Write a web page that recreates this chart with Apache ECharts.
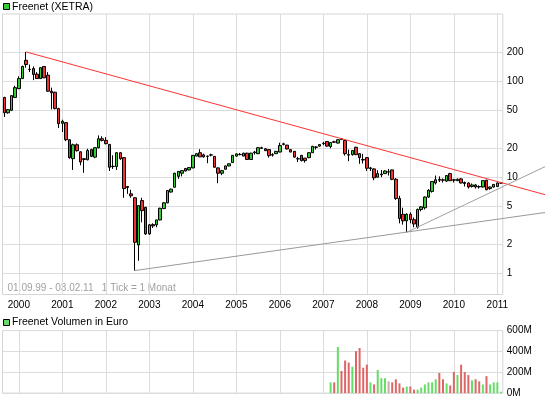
<!DOCTYPE html>
<html>
<head>
<meta charset="utf-8">
<script src="https://cdn.jsdelivr.net/npm/echarts@6/dist/echarts.min.js"></script>
<style>
  html, body { margin: 0; padding: 0; background: #fff; }
  #main { width: 545px; height: 398px; }
</style>
</head>
<body>
<div id="main"></div>
<script>
// Monatskerzen 09.1999 - 02.2011
const months = []
for (let i = 0; i < 138; i++) {
  let m = 8 + i
  months.push((1999 + Math.floor(m / 12)) + '-' + String(m % 12 + 1).padStart(2, '0'))
}

const opens = [
  68, 47, 50, 68,
  84, 107, 166, 134, 136, 119, 107, 143, 116, 79, 77, 52,
  36.5, 37.1, 24.6, 15.6, 21.8, 18.4, 15.6, 15.2, 19.4, 16.2, 20.3, 25.2,
  24.2, 22, 13, 12.9, 18, 16, 8, 6.7, 6.1, 1.96, 5.7, 4.85,
  2.56, 3.2, 3.18, 3.58, 4.7, 5.4, 7.0, 7.86, 10.2, 11.0, 12.3, 11.9,
  12.5, 16.6, 18.0, 17.1, 16.6, 17, 16.5, 12.5, 11.0, 12.1, 13.1, 14.2,
  16.6, 17.3, 16.6, 17.8, 15.3, 18.0, 17.6, 20.3, 19.8, 19.4, 17.2, 17.6,
  18.3, 22.3, 21.6, 19.4, 18.6, 15.6, 16.9, 15.8, 16.0, 18.0, 20.7, 21.1,
  22.6, 23.6, 20.9, 23.4, 22.7, 25.0, 24.2, 17.2, 17.2, 20.5, 17.6, 15.3,
  16.0, 12.3, 12.2, 10.0, 10.6, 10.9, 11.4, 11.9, 9.5, 6.0, 4.1, 3.5,
  4.1, 3.6, 3.0, 4.6, 4.8, 6.2, 7.1, 8.7, 9.5, 9.4, 9.1, 10.9,
  9.4, 9.2, 9.6, 8.8, 8.7, 8.0, 8.3, 8.0, 7.9, 9.3, 7.6, 7.9,
  8.0, 8.7
]
const closes = [
  47, 50.7, 71, 86,
  107, 143, 150, 133, 118, 107, 139, 109, 79, 76, 52, 36.2,
  38.3, 24.6, 16, 21.8, 18.9, 14.4, 15.3, 19, 16.5, 20.3, 25.2, 24.2,
  22.4, 12.7, 12.9, 18, 15.6, 7.6, 7.8, 6.4, 2.09, 5.05, 4.48, 2.56,
  3.18, 3.1, 3.58, 4.74, 5.4, 7.26, 7.5, 11.0, 11.5, 11.7, 11.6, 12.6,
  16.9, 17.6, 16.3, 16.3, 16.5, 17.1, 12.7, 11.0, 11.7, 13.1, 13.8, 16.9,
  17.5, 17.2, 17.8, 15.3, 17.8, 18.3, 20.3, 20.0, 18.9, 16.8, 17.0, 18.6,
  21.4, 22.0, 19.7, 18.3, 16.2, 15.5, 14.9, 14.9, 18.0, 21.0, 20.5, 21.9,
  22.4, 21.1, 23.0, 23.2, 24.6, 24.8, 17.6, 17.0, 19.0, 17.2, 16.0, 15.1,
  12.4, 12.5, 9.85, 10.9, 10.8, 11.6, 11.3, 9.5, 6.0, 3.7, 3.5, 4.1,
  3.6, 3.25, 4.6, 4.9, 6.2, 7.3, 9.0, 9.4, 9.3, 9.3, 10.4, 9.2,
  9.3, 9.5, 8.7, 8.6, 7.9, 8.3, 7.9, 7.9, 9.2, 7.4, 7.9, 8.4,
  8.7, 8.7
]
const lows = [
  42.5, 46, 49, 67,
  83, 106, 139, 125, 103, 106, 106, 108, 78, 51, 51, 32.6,
  29.6, 23.8, 15.6, 11.9, 18.5, 13.3, 11.1, 15, 16.2, 15.8, 20, 23.6,
  22, 11.6, 12.2, 11.9, 15.2, 6.1, 6.7, 6.1, 1.06, 1.34, 3.38, 2.5,
  2.5, 2.95, 3.0, 3.55, 4.65, 5.35, 6.9, 7.8, 9.6, 10.2, 11.5, 11.8,
  12.4, 16.5, 16.2, 16, 14.0, 16.5, 12.6, 8.65, 10.5, 12, 13, 14.1,
  16.4, 16.9, 16.5, 15.2, 15.2, 17.2, 17.4, 19.8, 18.8, 16.0, 16.4, 17.5,
  18.2, 21.5, 19.5, 18.2, 16.0, 14.4, 14.6, 14.2, 15.8, 17.9, 19.4, 20.8,
  21.6, 20.8, 20.0, 22.8, 22.5, 24.4, 16.8, 14.7, 16.8, 17.0, 13.8, 13.9,
  11.6, 11.6, 9.3, 9.9, 10.0, 10.8, 10.4, 9.3, 5.8, 3.3, 3.2, 2.66,
  3.3, 3.0, 2.9, 4.4, 4.6, 6.1, 6.9, 8.4, 8.9, 8.8, 8.9, 9.1,
  8.8, 9.1, 8.6, 8.0, 7.6, 7.8, 7.6, 7.6, 7.8, 7.3, 7.4, 7.8,
  7.9, 8.6
]
const highs = [
  69, 51.5, 72, 90,
  113, 146, 203, 150, 143, 125, 141, 144, 125, 86, 78, 53,
  39.8, 37.5, 25, 22.4, 22.5, 18.6, 15.8, 19.8, 19.8, 20.6, 27.3, 26.7,
  26.2, 22.2, 16.9, 18.2, 18.2, 16.1, 8.1, 7.4, 6.2, 5.1, 6.1, 4.9,
  3.25, 3.3, 3.6, 4.8, 5.5, 7.3, 7.6, 11.1, 11.6, 11.8, 12.5, 12.7,
  17, 17.8, 19.6, 17.6, 16.8, 17.6, 16.6, 12.7, 11.9, 13.2, 13.9, 17,
  17.7, 17.9, 18, 18, 18, 18.8, 20.5, 20.8, 20, 19.6, 17.8, 18.8,
  22.9, 22.9, 21.8, 19.6, 18.8, 16.3, 17.0, 15.9, 18.2, 21.2, 21.0, 22.0,
  23.4, 23.8, 23.2, 24.0, 24.8, 25.6, 24.6, 19.4, 19.2, 20.8, 17.8, 17.5,
  16.2, 12.8, 12.4, 11.8, 11.9, 11.8, 12.2, 12.0, 9.8, 6.4, 4.8, 4.2,
  4.3, 3.8, 4.7, 5.0, 6.3, 7.5, 9.1, 10.4, 10.2, 9.7, 10.5, 11.1,
  9.6, 9.7, 9.8, 9.0, 8.8, 8.6, 8.5, 8.2, 9.3, 9.4, 8.0, 8.5,
  8.8, 8.8
]

// Volumen in Mio. Euro, ab 03.2007
const volStart = '2007-03'
const volumes = [
  103, 103, 443, 213, 313, 293, 253, 403, 433, 243,
  273, 103, 83, 223, 143, 143, 113, 103, 133, 93,
  53, 63, 63, 33, 33, 53, 83, 103, 103, 133,
  193, 133, 93, 73, 203, 173, 273, 203, 173, 123,
  133, 113, 83, 163, 83, 103, 103, 13
]
// 1 = steigend, -1 = fallend, 0 = unveraendert
const volDir = [
  1, -1, 1, -1, -1, -1, 1, -1, -1, -1,
  -1, 1, -1, 1, 1, 1, 0, -1, -1, -1,
  -1, 1, -1, -1, 1, 1, 1, 1, 1, 1,
  -1, -1, 1, -1, -1, 1, -1, -1, -1, 1,
  -1, -1, 1, -1, 1, 1, 1, 1
]

const priceTicks = [1, 2, 5, 10, 20, 50, 100, 200]
const yearMonths = months.filter(m => m.endsWith('-01'))

// Trendlinien: zwei Ankerpunkte [Monat, Kurs], nach rechts verlaengert
const trendRed = [['2000-03', 203], ['2011-01', 9.0]]
const trendGray1 = [['2002-09', 1.06], ['2011-01', 3.64]]
const trendGray2 = [['2008-12', 2.66], ['2011-01', 7.48]]

const FONT = 'Liberation Sans, Arial, sans-serif'

let myChart = echarts.init(document.getElementById('main'), null, { renderer: 'canvas' })

const volOffset = months.indexOf(volStart)
const volData = months.map((m, i) => {
  let k = i - volOffset
  if (k < 0 || k >= volumes.length) return '-'
  let c = volDir[k] > 0 ? '#66dd66' : (volDir[k] < 0 ? '#dd6666' : '#ccaaaa')
  return { value: volumes[k], itemStyle: { color: c } }
})

const gridLine = { color: '#dcdcdc', width: 1, type: 'solid' }

let option = {
  animation: false,
  backgroundColor: '#fff',
  grid: [
    { left: 2.5, right: 42.2, top: 14, bottom: 103.5, show: true, borderColor: '#d4d4d4', borderWidth: 1, backgroundColor: '#fff', outerBoundsMode: 'none' },
    { left: 2.5, right: 42.2, top: 330.6, bottom: 4.9, show: true, borderColor: '#d4d4d4', borderWidth: 1, backgroundColor: '#fff', outerBoundsMode: 'none' }
  ],
  xAxis: [
    {
      type: 'category', gridIndex: 0, data: months, boundaryGap: true,
      axisLine: { show: false }, axisTick: { show: false }, splitLine: { show: false },
      axisLabel: {
        interval: (idx, v) => v.endsWith('-01'),
        formatter: v => v.slice(0, 4),
        margin: 6, fontSize: 10, color: '#000', fontFamily: FONT
      }
    },
    {
      type: 'category', gridIndex: 1, data: months, boundaryGap: true,
      axisLine: { show: false }, axisTick: { show: false }, splitLine: { show: false },
      axisLabel: { show: false }
    }
  ],
  yAxis: [
    {
      type: 'log', gridIndex: 0, logBase: 10, min: 0.5964, max: 505, position: 'right',
      axisLine: { show: false }, axisTick: { show: false }, axisLabel: { show: false },
      splitLine: { show: false }
    },
    {
      type: 'value', gridIndex: 1, min: 0, max: 600, interval: 200, position: 'right',
      axisLine: { show: false }, axisTick: { show: false },
      splitLine: { show: true, lineStyle: gridLine },
      axisLabel: { formatter: '{value}M', margin: 4, fontSize: 10, color: '#000', fontFamily: FONT }
    }
  ],
  series: [
    {
      name: 'Freenet (XETRA)',
      type: 'candlestick',
      xAxisIndex: 0, yAxisIndex: 0,
      barWidth: 3,
      z: 3,
      itemStyle: {
        color: '#33cc33', color0: '#ee3333',
        borderColor: '#000', borderColor0: '#000', borderWidth: 1
      },
      data: months.map((m, i) => [opens[i], closes[i], lows[i], highs[i]]),
      markLine: {
        silent: true, symbol: 'none', z: 1, animation: false,
        lineStyle: gridLine,
        label: {
          show: true, position: 'end', distance: 4,
          formatter: p => String(p.value),
          fontSize: 10, color: '#000', fontFamily: FONT
        },
        emphasis: { disabled: true },
        data: priceTicks.map(v => ({ yAxis: v }))
          .concat(yearMonths.map(m => ({ xAxis: m, label: { show: false } })))
      }
    },
    {
      name: 'Freenet Volumen in Euro',
      type: 'bar',
      xAxisIndex: 1, yAxisIndex: 1,
      barWidth: 2,
      z: 3,
      data: volData,
      markLine: {
        silent: true, symbol: 'none', z: 1, animation: false,
        lineStyle: gridLine,
        label: { show: false },
        emphasis: { disabled: true },
        data: yearMonths.map(m => ({ xAxis: m }))
      }
    }
  ]
}

myChart.setOption(option)

// Trendlinien ueber die Achsen in Pixel umrechnen und bis an den rechten Rand verlaengern
function trendLine(anchors, color) {
  let p0 = myChart.convertToPixel({ gridIndex: 0 }, anchors[0])
  let p1 = myChart.convertToPixel({ gridIndex: 0 }, anchors[1])
  let xEnd = myChart.getWidth()
  let slope = (p1[1] - p0[1]) / (p1[0] - p0[0])
  return {
    type: 'line', silent: true, z: 50,
    shape: { x1: p0[0], y1: p0[1], x2: xEnd, y2: p0[1] + slope * (xEnd - p0[0]) },
    style: { stroke: color, lineWidth: 1 }
  }
}

myChart.setOption({
  graphic: [
    trendLine(trendRed, '#ff3333'),
    trendLine(trendGray1, '#999999'),
    trendLine(trendGray2, '#a0a0a0'),
    { type: 'rect', silent: true, shape: { x: 3.5, y: 3.5, width: 6, height: 6 }, style: { fill: '#33cc33', stroke: '#000', lineWidth: 1 } },
    { type: 'text', silent: true, x: 12, y: 7, style: { text: 'Freenet (XETRA)', font: '10.5px ' + FONT, fill: '#000', textVerticalAlign: 'middle' } },
    { type: 'text', silent: true, x: 7.5, y: 288, style: { text: '01.09.99 - 03.02.11   1 Tick = 1 Monat', font: '10px ' + FONT, fill: '#a0a0a0', textVerticalAlign: 'middle' } },
    { type: 'rect', silent: true, shape: { x: 3.5, y: 319.5, width: 6, height: 6 }, style: { fill: '#66dd66', stroke: '#000', lineWidth: 1 } },
    { type: 'text', silent: true, x: 12, y: 322.5, style: { text: 'Freenet Volumen in Euro', font: '10.5px ' + FONT, fill: '#000', textVerticalAlign: 'middle' } }
  ]
})
</script>
</body>
</html>
